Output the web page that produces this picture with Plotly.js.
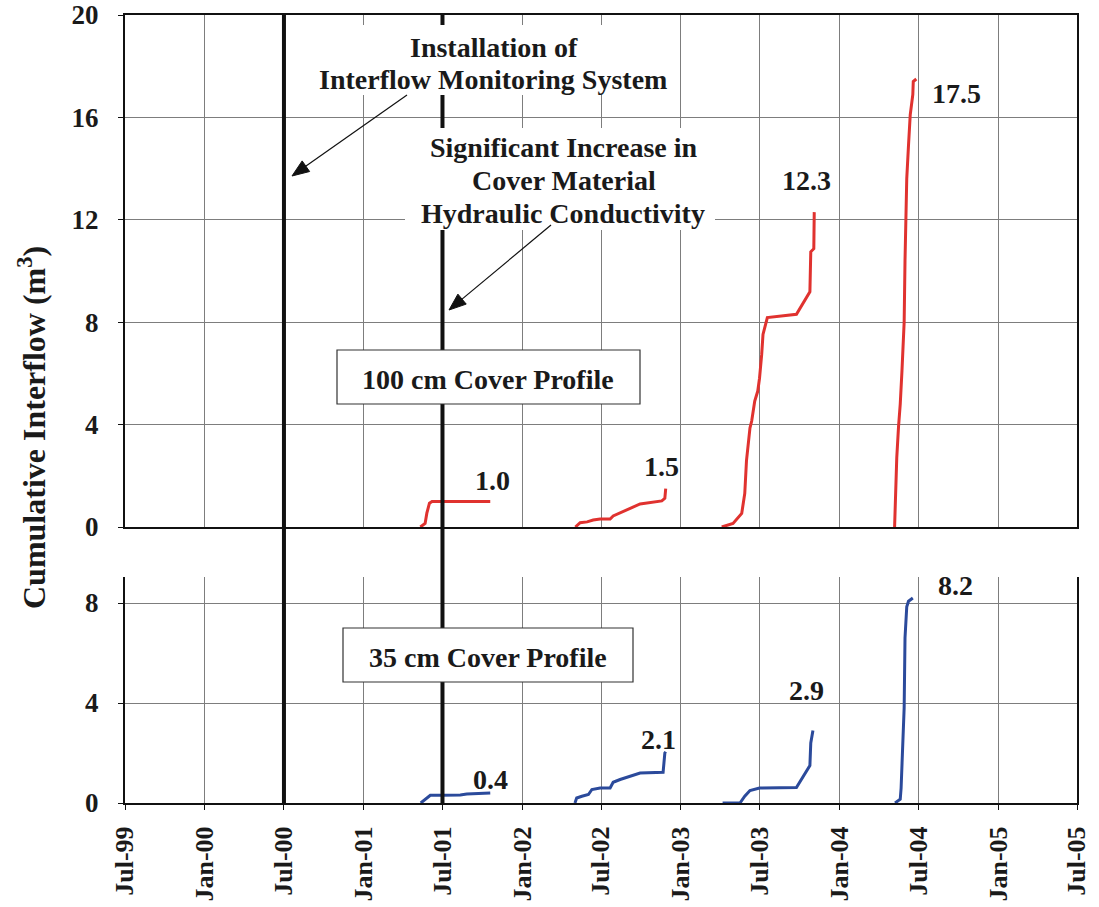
<!DOCTYPE html>
<html>
<head>
<meta charset="utf-8">
<script src="https://cdn.plot.ly/plotly-3.0.1.min.js"></script>
<style>
  html, body { margin: 0; padding: 0; background: #fff; }
  #chart { width: 1099px; height: 907px; }
</style>
</head>
<body>
<div id="chart"></div>
<script>
// ---------------- DATA ----------------
// 100 cm cover profile (top panel), cumulative interflow m3
const red1Dates = ['2001-05-11','2001-05-22','2001-05-26','2001-06-01','2001-06-07','2001-10-19'];
const red1Vals  = [0, 0.14, 0.54, 0.93, 1.0, 1.0];
const red2Dates = ['2002-05-03','2002-05-14','2002-05-30','2002-06-13','2002-06-29','2002-07-22','2002-07-29','2002-08-29','2002-09-29','2002-11-18','2002-11-25','2002-11-27'];
const red2Vals  = [0, 0.17, 0.2, 0.27, 0.31, 0.31, 0.43, 0.66, 0.9, 1.02, 1.12, 1.5];
const red3Dates = ['2003-04-05','2003-05-01','2003-05-21','2003-05-28','2003-06-01','2003-06-09','2003-06-13','2003-06-20','2003-06-27','2003-07-01','2003-07-06','2003-07-09','2003-07-19','2003-09-24','2003-10-25','2003-10-27','2003-11-03','2003-11-04'];
const red3Vals  = [0, 0.14, 0.53, 1.31, 2.59, 3.87, 4.14, 4.92, 5.31, 5.81, 6.74, 7.52, 8.18, 8.31, 9.19, 10.75, 10.87, 12.3];
const red4Dates = ['2004-05-07','2004-05-12','2004-05-16','2004-05-20','2004-05-24','2004-05-27','2004-05-29','2004-05-31','2004-06-04','2004-06-08','2004-06-12','2004-06-18','2004-06-19','2004-06-26'];
const red4Vals  = [0, 2.7, 3.9, 4.8, 6.1, 7.2, 8.0, 10.4, 13.6, 14.9, 16.1, 16.9, 17.4, 17.5];

// 35 cm cover profile (bottom panel)
const blue1Dates = ['2001-05-12','2001-05-22','2001-06-03','2001-06-30','2001-08-11','2001-08-26','2001-10-19'];
const blue1Vals  = [0, 0.13, 0.31, 0.31, 0.32, 0.36, 0.4];
const blue2Dates = ['2002-05-02','2002-05-06','2002-05-18','2002-06-02','2002-06-10','2002-06-29','2002-07-22','2002-07-29','2002-08-14','2002-09-29','2002-11-21','2002-11-25','2002-11-27'];
const blue2Vals  = [0, 0.2, 0.27, 0.34, 0.54, 0.6, 0.6, 0.83, 0.94, 1.2, 1.23, 2.0, 2.05];
const blue3Dates = ['2003-04-07','2003-05-17','2003-05-28','2003-06-09','2003-07-01','2003-09-24','2003-10-25','2003-10-27','2003-11-01'];
const blue3Vals  = [0, 0, 0.27, 0.5, 0.6, 0.62, 1.5, 2.4, 2.9];
const blue4Dates = ['2004-05-08','2004-05-20','2004-05-22','2004-05-26','2004-05-29','2004-05-31','2004-06-04','2004-06-08','2004-06-18'];
const blue4Vals  = [0, 0.15, 0.6, 2.2, 3.8, 6.6, 7.85, 8.07, 8.2];

// final-value labels
const topLabels    = ['1.0', '1.5', '12.3', '17.5'];
const bottomLabels = ['0.4', '2.1', '2.9', '8.2'];

// x tick positions / labels
const tickDates  = ['1999-07-01','2000-01-01','2000-07-01','2001-01-01','2001-07-01','2002-01-01','2002-07-01','2003-01-01','2003-07-01','2004-01-01','2004-07-01','2005-01-01','2005-07-01'];
const tickLabels = ['Jul-99','Jan-00','Jul-00','Jan-01','Jul-01','Jan-02','Jul-02','Jan-03','Jul-03','Jan-04','Jul-04','Jan-05','Jul-05'];

// event dates (thick vertical lines)
const eventDates = ['2000-07-01', '2001-07-01'];

// text
const textInstall = ['Installation of', 'Interflow Monitoring System'];
const textSignif  = ['Significant Increase in', 'Cover Material', 'Hydraulic Conductivity'];
const box100 = '100 cm Cover Profile';
const box35  = '35 cm Cover Profile';
const yTitle = 'Cumulative Interflow (m<sup>3</sup>)';

// ---------------- STYLE / LAYOUT ----------------
const FONT = 'Liberation Serif, Times New Roman, serif';
const INK = '#1a1a1a';
const RED = '#e0322f';
const BLUE = '#2b4a9b';
const GRID = '#7d7d7d';

// pixel helpers (plot area: x 125..1077, y 15..803)
const L = 125, R = 1077, T = 15, B = 803;
const px = x => (x - L) / (R - L);
const py = y => (B - y) / (B - T);

function redTrace(x, y) {
  return {x: x, y: y, xaxis: 'x2', yaxis: 'y2', type: 'scatter', mode: 'lines',
          line: {color: RED, width: 3}, hoverinfo: 'skip'};
}
function blueTrace(x, y) {
  return {x: x, y: y, xaxis: 'x', yaxis: 'y', type: 'scatter', mode: 'lines',
          line: {color: BLUE, width: 3}, hoverinfo: 'skip'};
}

const traces = [
  redTrace(red1Dates, red1Vals), redTrace(red2Dates, red2Vals),
  redTrace(red3Dates, red3Vals), redTrace(red4Dates, red4Vals),
  blueTrace(blue1Dates, blue1Vals), blueTrace(blue2Dates, blue2Vals),
  blueTrace(blue3Dates, blue3Vals), blueTrace(blue4Dates, blue4Vals)
];

const tickFont = {family: FONT, size: 27, color: INK, weight: 'bold'};
const xTickFont = {family: FONT, size: 26, color: INK, weight: 'bold'};
const txtFont = {family: FONT, size: 28, color: INK, weight: 'bold'};

const shapes = [];
eventDates.forEach(d => {
  shapes.push({type: 'line', xref: 'x', yref: 'paper', x0: d, x1: d, y0: 0, y1: 1,
               line: {color: '#111', width: 4}, layer: 'above'});
});
// white backgrounds behind the annotation text blocks
shapes.push({type: 'rect', xref: 'paper', yref: 'paper', x0: px(310), x1: px(677), y0: py(95), y1: py(25),
             fillcolor: '#fff', line: {width: 0}, layer: 'above'});
shapes.push({type: 'rect', xref: 'paper', yref: 'paper', x0: px(405), x1: px(715), y0: py(230), y1: py(128),
             fillcolor: '#fff', line: {width: 0}, layer: 'above'});
// framed profile boxes
shapes.push({type: 'rect', xref: 'paper', yref: 'paper', x0: px(337), x1: px(640), y0: py(404), y1: py(350),
             fillcolor: '#fff', line: {color: '#333', width: 1.2}, layer: 'above'});
shapes.push({type: 'rect', xref: 'paper', yref: 'paper', x0: px(343), x1: px(633), y0: py(682), y1: py(628),
             fillcolor: '#fff', line: {color: '#333', width: 1.2}, layer: 'above'});

// arrows drawn as a line plus a filled triangular head
function arrow(tailX, tailY, headX, headY) {
  const dx = headX - tailX, dy = headY - tailY;
  const len = Math.sqrt(dx * dx + dy * dy);
  const ux = dx / len, uy = dy / len;
  const hl = 17, hw = 6.5;
  const bx = headX - ux * hl, by = headY - uy * hl;
  const nx = -uy, ny = ux;
  shapes.push({type: 'line', xref: 'paper', yref: 'paper',
               x0: px(tailX), y0: py(tailY), x1: px(bx + ux * 2), y1: py(by + uy * 2),
               line: {color: '#111', width: 1.2}, layer: 'above'});
  const p = [[headX, headY], [bx + nx * hw, by + ny * hw], [bx - nx * hw, by - ny * hw]]
    .map(q => px(q[0]).toFixed(5) + ',' + py(q[1]).toFixed(5));
  shapes.push({type: 'path', xref: 'paper', yref: 'paper',
               path: 'M' + p[0] + ' L' + p[1] + ' L' + p[2] + ' Z',
               fillcolor: '#111', line: {color: '#111', width: 1}, layer: 'above'});
}
arrow(407, 95, 292, 176);
arrow(551, 225, 449, 310);

const annotations = [];
function txt(text, x, y, font) {
  annotations.push({text: text, xref: 'paper', yref: 'paper', x: px(x), y: py(y),
                    xanchor: 'center', yanchor: 'middle', showarrow: false, font: font || txtFont});
}
txt(textInstall[0], 494, 47);
txt(textInstall[1], 493, 79);
txt(textSignif[0], 563, 148);
txt(textSignif[1], 564, 180);
txt(textSignif[2], 563, 213);
txt(box100, 488, 379);
txt(box35, 488, 657);
const topLabelPos = [[492, 480], [661, 466], [806, 180], [956, 93]];
const botLabelPos = [[490, 779], [658, 739], [806, 690], [955, 585]];
topLabels.forEach((t, i) => txt(t, topLabelPos[i][0], topLabelPos[i][1]));
bottomLabels.forEach((t, i) => txt(t, botLabelPos[i][0], botLabelPos[i][1]));

// y title
annotations.push({text: yTitle, xref: 'paper', yref: 'paper', x: px(32), y: py(428),
                  xanchor: 'center', yanchor: 'middle', textangle: -90, showarrow: false,
                  font: {family: FONT, size: 32, color: INK, weight: 'bold'}});

const commonX = {
  type: 'date', range: ['1999-07-01', '2005-07-01'],
  tickmode: 'array', tickvals: tickDates, ticktext: tickLabels,
  showgrid: true, gridcolor: GRID, gridwidth: 1,
  zeroline: false, showline: true, linecolor: '#111', linewidth: 2
};

const layout = {
  width: 1099, height: 907,
  margin: {l: L, r: 1099 - R, t: T, b: 907 - B, pad: 0},
  paper_bgcolor: '#fff', plot_bgcolor: '#fff',
  showlegend: false,
  xaxis: Object.assign({}, commonX, {
    anchor: 'y', tickangle: -90, tickfont: xTickFont, ticks: 'outside', ticklen: 5, tickcolor: '#111',
    ticklabelstandoff: 6, ticklabeloverflow: 'allow'
  }),
  xaxis2: Object.assign({}, commonX, {
    anchor: 'y2', matches: 'x', showticklabels: false, mirror: true, ticks: ''
  }),
  yaxis: {
    domain: [0, (B - 577) / (B - T)], range: [0, 9.04], tickvals: [0, 4, 8],
    showgrid: true, gridcolor: GRID, gridwidth: 1, zeroline: false,
    showline: true, mirror: true, linecolor: '#111', linewidth: 2,
    ticks: 'outside', ticklen: 5, tickcolor: '#111', tickfont: tickFont, ticklabelstandoff: 14,
    ticklabeloverflow: 'allow'
  },
  yaxis2: {
    domain: [(B - 527) / (B - T), 1], range: [0, 20], tickvals: [0, 4, 8, 12, 16, 20],
    showgrid: true, gridcolor: GRID, gridwidth: 1, zeroline: false,
    showline: true, mirror: true, linecolor: '#111', linewidth: 2,
    ticks: 'outside', ticklen: 5, tickcolor: '#111', tickfont: tickFont, ticklabelstandoff: 14,
    ticklabeloverflow: 'allow'
  },
  shapes: shapes,
  annotations: annotations
};

Plotly.newPlot('chart', traces, layout, {staticPlot: true, displayModeBar: false});
</script>
</body>
</html>
